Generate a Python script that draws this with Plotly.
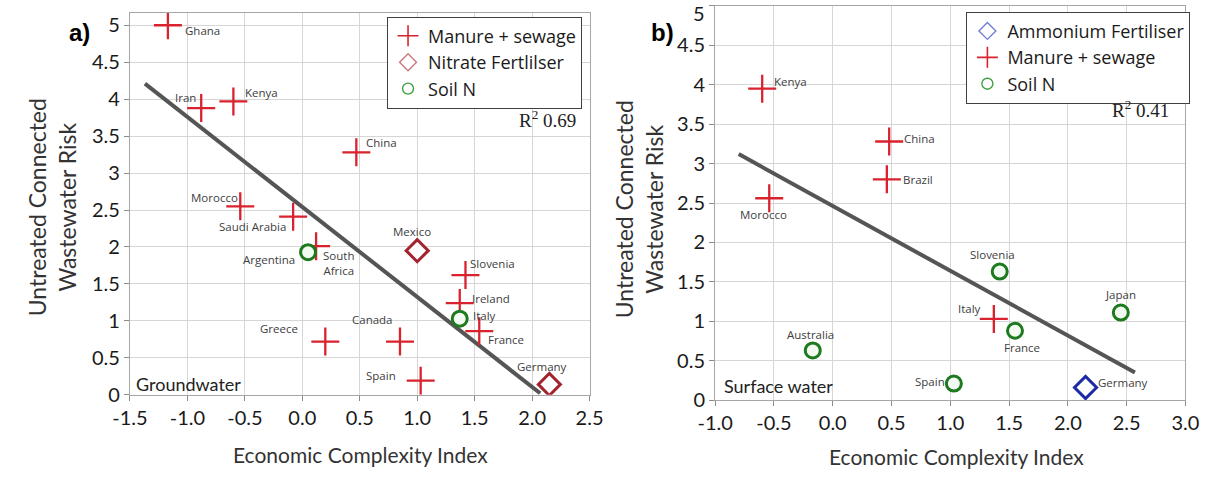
import plotly.graph_objects as go

W, H = 1217, 481

# ---------------- a) Groundwater ----------------
gw_manure_country = ["Ghana", "Iran", "Kenya", "China", "Morocco", "Saudi Arabia",
                     "South Africa", "Greece", "Canada", "Spain", "Slovenia",
                     "Ireland", "France"]
gw_manure_eci = [-1.17, -0.88, -0.60, 0.47, -0.54, -0.08, 0.12, 0.20, 0.85, 1.03, 1.42, 1.37, 1.54]
gw_manure_risk = [5.00, 3.88, 3.97, 3.28, 2.55, 2.41, 2.01, 0.72, 0.72, 0.19, 1.62, 1.24, 0.86]

gw_nitrate_country = ["Mexico", "Germany"]
gw_nitrate_eci = [1.00, 2.15]
gw_nitrate_risk = [1.95, 0.14]

gw_soil_country = ["Argentina", "Italy"]
gw_soil_eci = [0.05, 1.37]
gw_soil_risk = [1.93, 1.03]

gw_trend_eci = [-1.37, 2.07]
gw_trend_risk = [4.21, 0.02]
gw_r2 = "0.69"

# ---------------- b) Surface water ----------------
sw_ammonium_country = ["Germany"]
sw_ammonium_eci = [2.15]
sw_ammonium_risk = [0.16]

sw_manure_country = ["Kenya", "Morocco", "China", "Brazil", "Italy"]
sw_manure_eci = [-0.60, -0.54, 0.48, 0.46, 1.37]
sw_manure_risk = [3.95, 2.56, 3.28, 2.80, 1.03]

sw_soil_country = ["Australia", "Slovenia", "Japan", "France", "Spain"]
sw_soil_eci = [-0.17, 1.42, 2.45, 1.55, 1.03]
sw_soil_risk = [0.63, 1.63, 1.11, 0.88, 0.21]

sw_trend_eci = [-0.80, 2.57]
sw_trend_risk = [3.12, 0.35]
sw_r2 = "0.41"

x_ticks_a = [-1.5, -1.0, -0.5, 0.0, 0.5, 1.0, 1.5, 2.0, 2.5]
x_ticks_b = [-1.0, -0.5, 0.0, 0.5, 1.0, 1.5, 2.0, 2.5, 3.0]
y_ticks = [0, 0.5, 1, 1.5, 2, 2.5, 3, 3.5, 4, 4.5, 5]

# ---------------- styles ----------------
RED = "#d9222e"
MAIN_FONT = "Lato"
LABEL_FONT = "Open Sans"

cross_style = dict(symbol="cross-thin", size=20, line=dict(width=2.3, color=RED))
nitrate_style = dict(symbol="diamond", size=17, color="white", line=dict(width=3, color="#a3232f"))
soil_style = dict(symbol="circle", size=15, color="#f2faf2", line=dict(width=3, color="#1e7a1e"))
ammonium_style = dict(symbol="diamond", size=17, color="white", line=dict(width=3, color="#1c2aa8"))

leg_cross = dict(symbol="cross-thin", size=15, line=dict(width=1.6, color=RED))
leg_nitrate = dict(symbol="diamond-open", size=13, line=dict(width=1.4, color="#c97880"), color="#c97880")
leg_soil = dict(symbol="circle-open", size=11, line=dict(width=1.4, color="#3f9f3f"), color="#3f9f3f")
leg_ammonium = dict(symbol="diamond-open", size=13, line=dict(width=1.4, color="#6f7fd6"), color="#6f7fd6")

# label placement: (anchor, x offset px, y offset px)
gw_label_pos = {
    "Ghana": ("left", 16, -5), "Iran": ("right", -4, 11), "Kenya": ("left", 11, 9),
    "China": ("left", 9, 10), "Morocco": ("right", -1, 9), "Saudi Arabia": ("right", -6, -10),
    "Argentina": ("right", -12, -7), "South Africa": ("left", 6, -17), "Greece": ("right", -26, 13),
    "Canada": ("right", -6, 22), "Spain": ("right", -24, 5), "Mexico": ("center", -5, 19),
    "Slovenia": ("left", 4, 12), "Ireland": ("left", 11, 5), "Italy": ("left", 12, 3),
    "France": ("left", 8, -8), "Germany": ("center", -7, 18),
}
sw_label_pos = {
    "Kenya": ("left", 11, 7), "Morocco": ("center", -6, -16), "China": ("left", 14, 3),
    "Brazil": ("left", 15, 0), "Australia": ("center", -2, 16), "Slovenia": ("center", -7, 17),
    "Japan": ("center", 0, 18), "Italy": ("right", -12, 10), "France": ("center", 7, -17),
    "Spain": ("right", -8, 2), "Germany": ("left", 11, 5),
}

fig = go.Figure()

# trend lines
fig.add_trace(go.Scatter(x=gw_trend_eci, y=gw_trend_risk, mode="lines",
                         line=dict(color="#555555", width=4), showlegend=False,
                         xaxis="x", yaxis="y", hoverinfo="skip"))
fig.add_trace(go.Scatter(x=sw_trend_eci, y=sw_trend_risk, mode="lines",
                         line=dict(color="#555555", width=4), showlegend=False,
                         xaxis="x2", yaxis="y2", hoverinfo="skip"))

# data markers
def add_points(xs, ys, names, style, xa, ya):
    fig.add_trace(go.Scatter(x=xs, y=ys, text=names, mode="markers", marker=style,
                             showlegend=False, xaxis=xa, yaxis=ya))

add_points(gw_manure_eci, gw_manure_risk, gw_manure_country, cross_style, "x", "y")
add_points(gw_nitrate_eci, gw_nitrate_risk, gw_nitrate_country, nitrate_style, "x", "y")
add_points(gw_soil_eci, gw_soil_risk, gw_soil_country, soil_style, "x", "y")
add_points(sw_ammonium_eci, sw_ammonium_risk, sw_ammonium_country, ammonium_style, "x2", "y2")
add_points(sw_manure_eci, sw_manure_risk, sw_manure_country, cross_style, "x2", "y2")
add_points(sw_soil_eci, sw_soil_risk, sw_soil_country, soil_style, "x2", "y2")

# legend entries
def add_legend(name, style, legend, xa, ya):
    fig.add_trace(go.Scatter(x=[None], y=[None], mode="markers", marker=style, name=name,
                             legend=legend, xaxis=xa, yaxis=ya))

add_legend("Manure + sewage", leg_cross, "legend", "x", "y")
add_legend("Nitrate Fertlilser", leg_nitrate, "legend", "x", "y")
add_legend("Soil N", leg_soil, "legend", "x", "y")
add_legend("Ammonium Fertiliser", leg_ammonium, "legend2", "x2", "y2")
add_legend("Manure + sewage", leg_cross, "legend2", "x2", "y2")
add_legend("Soil N", leg_soil, "legend2", "x2", "y2")

annotations = []

def add_labels(xs, ys, names, positions, xref, yref):
    for x, y, n in zip(xs, ys, names):
        anchor, dx, dy = positions[n]
        text = "South<br>Africa" if n == "South Africa" else n
        annotations.append(dict(x=x, y=y, xref=xref, yref=yref, text=text, showarrow=False,
                                xanchor=anchor, yanchor="middle", xshift=dx, yshift=dy,
                                font=dict(family=LABEL_FONT, size=11.5, color="#404040"),
                                borderpad=0))

add_labels(gw_manure_eci, gw_manure_risk, gw_manure_country, gw_label_pos, "x", "y")
add_labels(gw_nitrate_eci, gw_nitrate_risk, gw_nitrate_country, gw_label_pos, "x", "y")
add_labels(gw_soil_eci, gw_soil_risk, gw_soil_country, gw_label_pos, "x", "y")
add_labels(sw_ammonium_eci, sw_ammonium_risk, sw_ammonium_country, sw_label_pos, "x2", "y2")
add_labels(sw_manure_eci, sw_manure_risk, sw_manure_country, sw_label_pos, "x2", "y2")
add_labels(sw_soil_eci, sw_soil_risk, sw_soil_country, sw_label_pos, "x2", "y2")

def px_x(p):
    return p / W

def px_y(p):
    return (H - p) / H

# panel letters, R² notes, water-type notes, axis titles
annotations += [
    dict(x=px_x(63), y=px_y(33), xref="paper", yref="paper", text="<b>a)</b>", showarrow=False,
         xanchor="center", yanchor="middle", font=dict(family="Liberation Sans", size=24, color="black")),
    dict(x=px_x(662), y=px_y(33), xref="paper", yref="paper", text="<b>b)</b>", showarrow=False,
         xanchor="center", yanchor="middle", font=dict(family="Liberation Sans", size=24, color="black")),
    dict(x=px_x(575), y=px_y(122), xref="paper", yref="paper", text="R<sup>2</sup> " + gw_r2,
         showarrow=False, xanchor="right", yanchor="middle",
         font=dict(family="Liberation Serif", size=19, color="#222222")),
    dict(x=px_x(1184), y=px_y(112), xref="paper", yref="paper", text="R<sup>2</sup> " + sw_r2,
         showarrow=False, xanchor="right", yanchor="middle",
         font=dict(family="Liberation Serif", size=19, color="#222222")),
    dict(x=px_x(119), y=px_y(393), xref="paper", yref="paper", text="Groundwater", showarrow=False,
         xanchor="left", yanchor="middle", font=dict(family=MAIN_FONT, size=18, color="#222222")),
    dict(x=px_x(723), y=px_y(395), xref="paper", yref="paper", text="Surface water", showarrow=False,
         xanchor="left", yanchor="middle", font=dict(family=MAIN_FONT, size=18, color="#222222")),
    dict(x=px_x(352), y=px_y(465), xref="paper", yref="paper", text="Economic Complexity Index",
         showarrow=False, xanchor="center", yanchor="middle",
         font=dict(family=MAIN_FONT, size=21, color="#333333")),
    dict(x=px_x(964), y=px_y(467), xref="paper", yref="paper", text="Economic Complexity Index",
         showarrow=False, xanchor="center", yanchor="middle",
         font=dict(family=MAIN_FONT, size=21, color="#333333")),
    dict(x=px_x(35), y=px_y(212), xref="paper", yref="paper",
         text="Untreated Connected<br>Wastewater Risk", showarrow=False, textangle=-90,
         xanchor="center", yanchor="middle",
         font=dict(family=MAIN_FONT, size=23, color="#333333")),
    dict(x=px_x(638), y=px_y(214), xref="paper", yref="paper",
         text="Untreated Connected<br>Wastewater Risk", showarrow=False, textangle=-90,
         xanchor="center", yanchor="middle",
         font=dict(family=MAIN_FONT, size=23, color="#333333")),
    # top tick label of panel b sits just under the frame
    dict(x=px_x(708), y=px_y(13), xref="paper", yref="paper", text="5", showarrow=False,
         xanchor="right", yanchor="middle",
         font=dict(family=MAIN_FONT, size=20, color="#1a1a1a")),
]

axis_common = dict(showline=True, mirror=True, linecolor="#a6a6a6", linewidth=1.3,
                   ticks="outside", ticklen=5, tickcolor="#8c8c8c", showgrid=True,
                   gridcolor="#d6d6d6", gridwidth=1, zeroline=False,
                   tickfont=dict(family=MAIN_FONT, size=20, color="#1a1a1a"))

def x_labels(vals):
    return [f"{v:.1f}" for v in vals]

def y_labels(vals, skip_top=False):
    labels = [f"{v:g}" for v in vals]
    if skip_top:
        labels[-1] = ""
    return labels

legend_common = dict(xanchor="left", yanchor="top", bgcolor="white", bordercolor="#404040",
                     borderwidth=1, font=dict(family=LABEL_FONT, size=18, color="#1a1a1a"),
                     tracegroupgap=0, itemwidth=30)

fig.update_layout(
    width=W, height=H, margin=dict(l=0, r=0, t=0, b=0),
    paper_bgcolor="white", plot_bgcolor="white",
    xaxis=dict(axis_common, domain=[px_x(115), px_x(587)], range=[-1.5, 2.5],
               tickvals=x_ticks_a, ticktext=x_labels(x_ticks_a), anchor="y"),
    yaxis=dict(axis_common, domain=[px_y(404), px_y(13)], range=[0, 5.17],
               tickvals=y_ticks, ticktext=y_labels(y_ticks), anchor="x"),
    xaxis2=dict(axis_common, domain=[px_x(716), px_x(1199)], range=[-1, 3],
                tickvals=x_ticks_b, ticktext=x_labels(x_ticks_b), anchor="y2"),
    yaxis2=dict(axis_common, domain=[px_y(409.5), px_y(6)], range=[0, 5.0],
                tickvals=y_ticks, ticktext=y_labels(y_ticks, skip_top=True), anchor="x2"),
    legend=dict(legend_common, x=px_x(379), y=px_y(17)),
    legend2=dict(legend_common, x=px_x(974), y=px_y(12)),
    annotations=annotations,
    showlegend=True,
)

fig.write_html("out.html")
